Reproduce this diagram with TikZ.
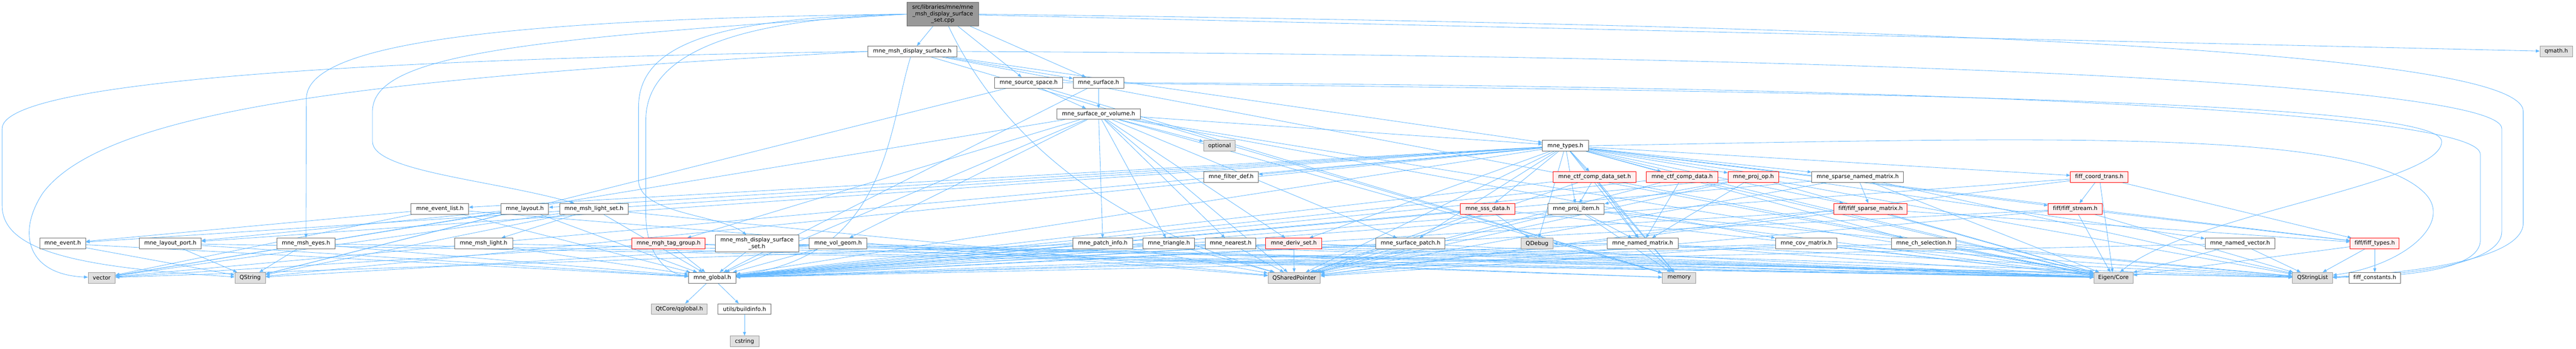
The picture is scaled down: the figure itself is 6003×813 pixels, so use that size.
\documentclass[tikz,border=0pt]{standalone}
\usepackage{fontspec}
\setmainfont{DejaVu Sans}[Ligatures=NoCommon]
\usetikzlibrary{arrows.meta}
\usetikzlibrary{positioning}
\definecolor{edgeblue}{HTML}{63B8FF}
\definecolor{hdrline}{HTML}{666666}
\definecolor{sysline}{HTML}{999999}
\definecolor{sysfill}{HTML}{E0E0E0}
\definecolor{missfill}{HTML}{FFF0F0}
\definecolor{rootfill}{HTML}{999999}
\pgfdeclarelayer{bg}
\pgfsetlayers{bg,main}

\begin{document}
\begin{tikzpicture}[x=1pt,y=-1pt,
  hdr/.style={draw=hdrline,fill=white,line width=1.2pt,minimum height=25pt,inner sep=2pt,font=\fontsize{13}{15}\selectfont},
  sys/.style={hdr,draw=sysline,fill=sysfill},
  miss/.style={hdr,draw=red,fill=missfill},
  rootfile/.style={hdr,fill=rootfill,align=center},
  dep/.style={draw=edgeblue,line width=1pt,-{Triangle[length=9pt,width=7pt]}}]
\begin{pgfonlayer}{bg}
\path[use as bounding box,fill=white] (0,0) rectangle (6003,813);
\end{pgfonlayer}

\node[rootfile, minimum width=167pt, minimum height=55pt] (cpp) at (2197,33) {src/libraries/mne/mne\\\_msh\_display\_surface\\\_set.cpp};
\node[hdr, minimum width=207pt] (dispsurf) at (2126,120) {mne\_msh\_display\_surface.h};
\node[sys, minimum width=76pt] (qmath) at (5957,120) {qmath.h};
\node[hdr, minimum width=159pt] (srcspace) at (2397,193) {mne\_source\_space.h};
\node[hdr, minimum width=118pt] (surface) at (2560,193) {mne\_surface.h};
\node[hdr, minimum width=195pt] (surfvol) at (2560,266) {mne\_surface\_or\_volume.h};
\node[sys, minimum width=74pt] (optional) at (2842,340) {optional};
\node[hdr, minimum width=107pt] (types) at (3648,340) {mne\_types.h};
\node[hdr, minimum width=127pt] (filterdef) at (2869,413) {mne\_filter\_def.h};
\node[miss, minimum width=193pt] (ctfset) at (3716,413) {mne\_ctf\_comp\_data\_set.h};
\node[miss, minimum width=166pt] (ctfdata) at (3920,413) {mne\_ctf\_comp\_data.h};
\node[miss, minimum width=118pt] (projop) at (4086,413) {mne\_proj\_op.h};
\node[hdr, minimum width=214pt] (sparsenm) at (4329,413) {mne\_sparse\_named\_matrix.h};
\node[miss, minimum width=134pt] (coordtrans) at (4892,413) {fiff\_coord\_trans.h};
\node[hdr, minimum width=134pt] (eventlist) at (1025,487) {mne\_event\_list.h};
\node[hdr, minimum width=111pt] (layout) at (1223,487) {mne\_layout.h};
\node[hdr, minimum width=160pt] (lightset) at (1384,487) {mne\_msh\_light\_set.h};
\node[miss, minimum width=127pt] (sss) at (3467,487) {mne\_sss\_data.h};
\node[hdr, minimum width=131pt] (projitem) at (3673,487) {mne\_proj\_item.h};
\node[miss, minimum width=171pt] (sparsemat) at (4359,487) {fiff/fiff\_sparse\_matrix.h};
\node[miss, minimum width=126pt] (stream) at (4836,487) {fiff/fiff\_stream.h};
\node[hdr, minimum width=107pt] (event) at (146,568) {mne\_event.h};
\node[hdr, minimum width=144pt] (layoutport) at (397,568) {mne\_layout\_port.h};
\node[hdr, minimum width=136pt] (eyes) at (713,568) {mne\_msh\_eyes.h};
\node[hdr, minimum width=136pt] (light) at (1127,568) {mne\_msh\_light.h};
\node[miss, minimum width=171pt] (tag) at (1558,568) {mne\_mgh\_tag\_group.h};
\node[hdr, minimum width=195pt, minimum height=39pt, align=center] (dispset) at (1764,568) {mne\_msh\_display\_surface\\\_set.h};
\node[hdr, minimum width=134pt] (volgeom) at (1953,568) {mne\_vol\_geom.h};
\node[hdr, minimum width=139pt] (patch) at (2570,568) {mne\_patch\_info.h};
\node[hdr, minimum width=120pt] (triangle) at (2724,568) {mne\_triangle.h};
\node[hdr, minimum width=118pt] (nearest) at (2868,568) {mne\_nearest.h};
\node[miss, minimum width=131pt] (deriv) at (3015,568) {mne\_deriv\_set.h};
\node[hdr, minimum width=161pt] (surfpatch) at (3287,568) {mne\_surface\_patch.h};
\node[sys, minimum width=75pt] (qdebug) at (3582,568) {QDebug};
\node[hdr, minimum width=165pt] (namedmat) at (3828,568) {mne\_named\_matrix.h};
\node[hdr, minimum width=143pt] (covmat) at (4209,568) {mne\_cov\_matrix.h};
\node[hdr, minimum width=151pt] (chsel) at (4483,568) {mne\_ch\_selection.h};
\node[hdr, minimum width=163pt] (namedvec) at (5220,568) {mne\_named\_vector.h};
\node[miss, minimum width=114pt] (fifftypes) at (5534,568) {fiff/fiff\_types.h};
\node[sys, minimum width=63pt] (vector) at (237,648) {vector};
\node[sys, minimum width=71pt] (qstring) at (583,648) {QString};
\node[hdr, minimum width=110pt] (global) at (1660,648) {mne\_global.h};
\node[sys, minimum width=122pt] (qshared) at (3016,648) {QSharedPointer};
\node[sys, minimum width=78pt] (memory) at (3913,648) {memory};
\node[sys, minimum width=91pt] (eigen) at (4925,648) {Eigen/Core};
\node[sys, minimum width=93pt] (qstringlist) at (5389,648) {QStringList};
\node[hdr, minimum width=120pt] (constants) at (5534,648) {fiff\_constants.h};
\node[sys, minimum width=130pt] (qglobal) at (1583,721) {QtCore/qglobal.h};
\node[hdr, minimum width=123pt] (buildinfo) at (1735,721) {utils/buildinfo.h};
\node[sys, minimum width=67pt, below=49pt of buildinfo] (cstring) {cstring};

\begin{pgfonlayer}{bg}
\path (cpp) edge[dep] (dispsurf) edge[dep] (srcspace) edge[dep] (surface) edge[dep] (qmath);
\draw[dep] (cpp.west) .. controls (1100,45) and (714,110) .. (714,230) -- (eyes);
\draw[dep] (cpp.west) .. controls (1200,90) and (868,130) .. (868,260) -- (868,330) .. controls (868,400) and (1150,420) .. (lightset);
\draw[dep] (cpp.west) .. controls (1650,40) and (1488,110) .. (1488,250) -- (1488,420) .. controls (1488,500) and (1680,500) .. (dispset);
\draw[dep] (cpp.west) .. controls (1700,45) and (1505,130) .. (1505,280) -- (1505,500) .. controls (1505,600) and (1560,640) .. (global);
\draw[dep] (cpp.east) .. controls (4500,60) and (5880,120) .. (5880,260) -- (5880,520) .. controls (5880,600) and (5650,635) .. (qstringlist);
\draw[dep] (cpp) .. controls (2300,250) and (2500,500) .. (qshared);
\path (dispsurf) edge[dep] (surface) edge[dep] (types) edge[dep] (memory) edge[dep] (eigen);
\draw[dep] (dispsurf) .. controls (2070,300) and (2070,600) .. (global);
\draw[dep] (dispsurf.west) .. controls (1000,135) and (5,180) .. (5,300) -- (5,480) .. controls (5,590) and (200,625) .. (qstring);
\draw[dep] (dispsurf.west) .. controls (900,180) and (250,250) .. (100,450) .. controls (40,540) and (60,640) .. (vector);
\draw[dep] (dispsurf.east) .. controls (4500,130) and (5830,200) .. (5830,300) -- (5830,540) .. controls (5830,610) and (5650,640) .. (qstringlist);
\path (srcspace) edge[dep] (surfvol) edge[dep] (qstring) edge[dep] (memory);
\draw[dep] (srcspace.east) .. controls (4500,215) and (5690,240) .. (5690,330) .. controls (5690,430) and (5100,500) .. (eigen);
\path (surface) edge[dep] (surfvol) edge[dep] (global);
\draw[dep] (surface.east) .. controls (4500,200) and (5780,260) .. (5780,360) -- (5780,560) .. controls (5780,620) and (5650,645) .. (qstringlist);
\path (surfvol) edge[dep] (optional) edge[dep] (types) edge[dep] (patch) edge[dep] (triangle) edge[dep] (nearest) edge[dep] (deriv) edge[dep] (volgeom) edge[dep] (tag);
\path (surfvol) edge[dep] (global) edge[dep] (vector) edge[dep] (qshared) edge[dep] (memory) edge[dep] (eigen) edge[dep] (surfpatch) edge[dep] (covmat);
\path (types) edge[dep] (filterdef) edge[dep] (ctfset) edge[dep] (ctfdata) edge[dep] (projop) edge[dep] (sparsenm) edge[dep] (coordtrans) edge[dep] (sss) edge[dep] (projitem) edge[dep] (sparsemat) edge[dep] (stream);
\path (types) edge[dep] (eventlist) edge[dep] (layout) edge[dep] (event) edge[dep] (layoutport) edge[dep] (deriv) edge[dep] (surfpatch) edge[dep] (chsel) edge[dep] (namedmat) edge[dep] (namedvec) edge[dep] (fifftypes);
\path (types) edge[dep] (qdebug) edge[dep] (global) edge[dep] (eigen) edge[dep] (qshared) edge[dep] (memory) edge[dep] (vector) edge[dep] (qstring);
\draw[dep] (types.east) .. controls (4800,320) and (5500,300) .. (5650,450) .. controls (5720,520) and (5600,620) .. (qstringlist);
\path (ctfset) edge[dep] (namedmat) edge[dep] (memory) edge[dep] (global) edge[dep] (qshared) edge[dep] (eigen) edge[dep] (projitem);
\path (ctfdata) edge[dep] (namedmat) edge[dep] (global) edge[dep] (qshared) edge[dep] (eigen);
\path (projop) edge[dep] (projitem) edge[dep] (namedmat) edge[dep] (global) edge[dep] (qshared) edge[dep] (eigen) edge[dep] (qstringlist);
\path (sparsenm) edge[dep] (sparsemat) edge[dep] (global) edge[dep] (qshared) edge[dep] (eigen) edge[dep] (qstringlist);
\path (coordtrans) edge[dep] (stream) edge[dep] (eigen) edge[dep] (qshared) edge[dep] (global) edge[dep] (fifftypes);
\path (eventlist) edge[dep] (event) edge[dep] (global) edge[dep] (vector) edge[dep] (qshared);
\path (layout) edge[dep] (layoutport) edge[dep] (global) edge[dep] (qstring) edge[dep] (vector);
\path (lightset) edge[dep] (light) edge[dep] (global) edge[dep] (qstring) edge[dep] (qshared) edge[dep] (vector);
\path (sss) edge[dep] (qdebug) edge[dep] (qshared) edge[dep] (global) edge[dep] (eigen);
\path (projitem) edge[dep] (namedmat) edge[dep] (memory) edge[dep] (global) edge[dep] (qshared) edge[dep] (eigen) edge[dep] (qstringlist);
\path (sparsemat) edge[dep] (fifftypes) edge[dep] (eigen) edge[dep] (global) edge[dep] (qshared);
\path (stream) edge[dep] (fifftypes) edge[dep] (qstringlist) edge[dep] (eigen) edge[dep] (qshared) edge[dep] (global);
\path (event) edge[dep] (qstring) edge[dep] (global);
\path (layoutport) edge[dep] (qstring) edge[dep] (global) edge[dep] (eigen);
\path (eyes) edge[dep] (qstring) edge[dep] (global) edge[dep] (eigen);
\path (light) edge[dep] (global) edge[dep] (eigen);
\path (tag) edge[dep] (global) edge[dep] (qstringlist) edge[dep] (vector) edge[dep] (memory);
\path (dispset) edge[dep] (global) edge[dep] (qstringlist) edge[dep] (memory) edge[dep] (eigen);
\path (volgeom) edge[dep] (global) edge[dep] (qstring) edge[dep] (eigen);
\path (patch) edge[dep] (global) edge[dep] (vector) edge[dep] (eigen) edge[dep] (qshared);
\path (triangle) edge[dep] (global) edge[dep] (eigen) edge[dep] (qshared);
\path (nearest) edge[dep] (global) edge[dep] (qshared) edge[dep] (eigen);
\path (deriv) edge[dep] (qshared) edge[dep] (global) edge[dep] (eigen) edge[dep] (qstringlist);
\path (surfpatch) edge[dep] (global) edge[dep] (eigen) edge[dep] (qshared);
\path (namedmat) edge[dep] (memory) edge[dep] (global) edge[dep] (eigen) edge[dep] (qstringlist) edge[dep] (qdebug);
\path (covmat) edge[dep] (global) edge[dep] (eigen) edge[dep] (qstringlist) edge[dep] (qshared);
\path (chsel) edge[dep] (global) edge[dep] (eigen) edge[dep] (qstringlist);
\path (namedvec) edge[dep] (qstringlist) edge[dep] (eigen) edge[dep] (global);
\path (fifftypes) edge[dep] (qstringlist) edge[dep] (constants) edge[dep] (eigen);
\path (global) edge[dep] (qglobal) edge[dep] (buildinfo);
\path (buildinfo) edge[dep] (cstring);
\end{pgfonlayer}
\end{tikzpicture}
\end{document}
